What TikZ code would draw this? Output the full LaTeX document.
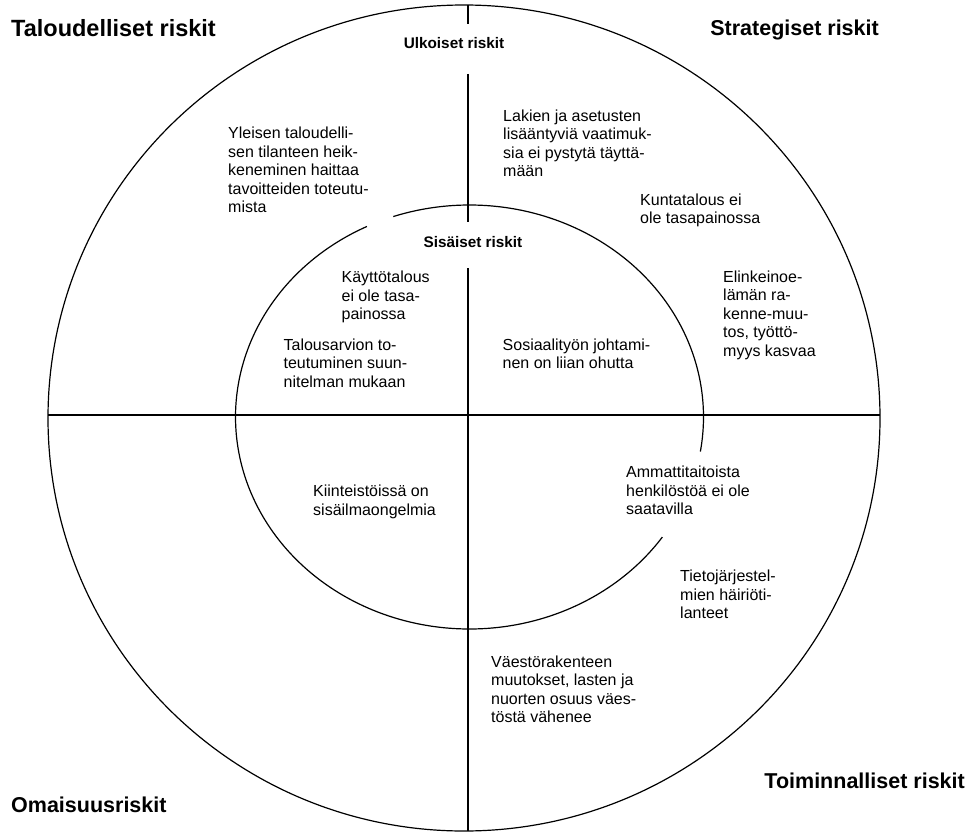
\documentclass[tikz,border=0pt]{standalone}
\usepackage{fontspec}
\setmainfont{Liberation Sans}
\begin{document}
\begin{tikzpicture}[x=1pt,y=-1pt,
  body/.style={font=\fontsize{16}{18.5}\selectfont, align=left, inner sep=0pt, anchor=base west},
  quad/.style={font=\fontsize{21.5}{24}\selectfont\bfseries, inner sep=0pt, anchor=base west},
  quadr/.style={quad, anchor=base east},
  zone/.style={font=\fontsize{15.3}{18}\selectfont\bfseries, inner sep=0pt, anchor=base},
  ring/.style={line width=1.2pt},
  axis/.style={line width=2pt}]
\useasboundingbox (0,0) rectangle (971,832);

% rings
\draw[ring] (464,418) ellipse [x radius=416, y radius=413];
\draw[ring] plot[domain=-9.4:109, samples=120, smooth] ({469.5+234*cos(\x)}, {417-212*sin(\x)});
\draw[ring] plot[domain=116:325.5, samples=180, smooth] ({469.5+234*cos(\x)}, {417-212*sin(\x)});

% axes
\coordinate (hl) at (48,415);
\coordinate (hr) at (880,415);
\coordinate (v1a) at (468,5);
\coordinate (v1b) at (468,24);
\coordinate (v2a) at (468,74);
\coordinate (v2b) at (468,221.7);
\coordinate (v3a) at (468,268);
\coordinate (v3b) at (468,831);
\draw[axis] (hl) -- (hr);
\draw[axis] (v1a) -- (v1b);
\draw[axis] (v2a) -- (v2b);
\draw[axis] (v3a) -- (v3b);

% zone labels
\node[zone] (ulkoiset) at (454,49) {Ulkoiset riskit};
\node[zone] (sisaiset) at (473,247.5) {Sisäiset riskit};

% quadrant labels
\node[quad, font=\fontsize{23.5}{26}\selectfont\bfseries] (taloudelliset) at (11,36.5) {Taloudelliset riskit};
\node[quadr] (strategiset) at (879,36) {Strategiset riskit};
\node[quad] (omaisuus) at (11,812) {Omaisuusriskit};
\node[quadr] (toiminnalliset) at (965,788) {Toiminnalliset riskit};

% risk texts (anchor = baseline of the last line)
\node[body] (yleisen) at (228,212.5) {Yleisen taloudelli-\\sen tilanteen heik-\\keneminen haittaa\\tavoitteiden toteutu-\\mista};
\node[body] (lakien) at (503,176.5) {Lakien ja asetusten\\lisääntyviä vaatimuk-\\sia ei pystytä täyttä-\\mään};
\node[body] (kunta) at (640,223.5) {Kuntatalous ei\\ole tasapainossa};
\node[body] (elinkeino) at (723,356.3) {Elinkeinoe-\\lämän ra-\\kenne-muu-\\tos, työttö-\\myys kasvaa};
\node[body] (kaytto) at (341.4,319.7) {Käyttötalous\\ei ole tasa-\\painossa};
\node[body] (talousarvio) at (283.4,387) {Talousarvion to-\\teutuminen suun-\\nitelman mukaan};
\node[body] (sosiaali) at (502.5,368.5) {Sosiaalityön johtami-\\nen on liian ohutta};
\node[body] (kiinteisto) at (313,515.2) {Kiinteistöissä on\\sisäilmaongelmia};
\node[body] (ammatti) at (626,514.7) {Ammattitaitoista\\henkilöstöä ei ole\\saatavilla};
\node[body] (tieto) at (680,618.7) {Tietojärjestel-\\mien häiriöti-\\lanteet};
\node[body] (vaesto) at (491,722.5) {Väestörakenteen\\muutokset, lasten ja\\nuorten osuus väes-\\töstä vähenee};
\end{tikzpicture}
\end{document}
